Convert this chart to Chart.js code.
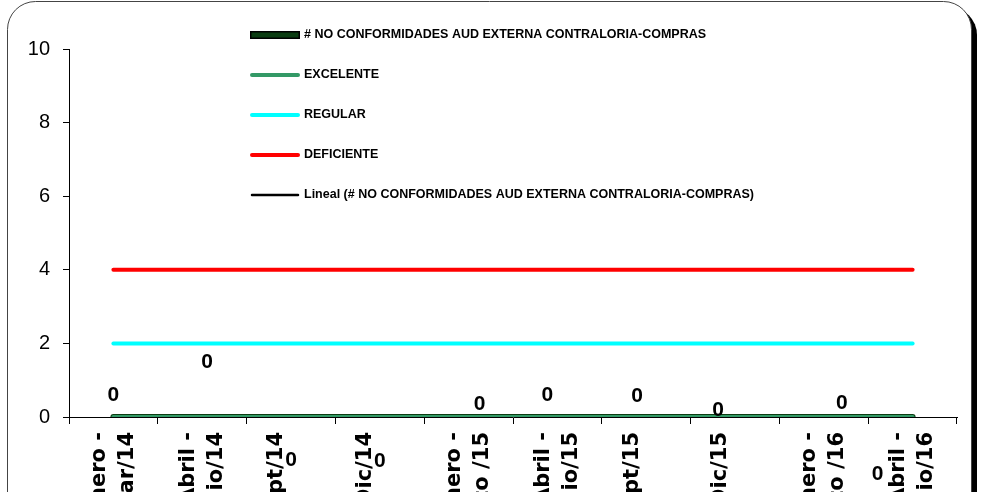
<!DOCTYPE html>
<html><head><meta charset="utf-8">
<script src="https://cdn.jsdelivr.net/npm/chart.js@4.4.0/dist/chart.umd.min.js"></script>
<style>html,body{margin:0;padding:0;background:#fff;overflow:hidden}#wrap{width:983px;height:492px;position:relative}</style>
</head><body><div id="wrap"><canvas id="c" width="983" height="492"></canvas></div>
<script>
// ---- data ----
const categories = [
  ["Enero -", "Mar/14"], ["Abril -", "Junio/14"], "Jul-Sept/14", "Oct-Dic/14",
  ["Enero -", "Marzo /15"], ["Abril -", "Junio/15"], "Jul-Sept/15", "Oct-Dic/15",
  ["Enero -", "Marzo /16"], ["Abril -", "Junio/16"]
];
const noConformidades = [0, 0, 0, 0, 0, 0, 0, 0, 0, 0];
const excelente = [0, 0, 0, 0, 0, 0, 0, 0, 0, 0];
const regular = [2, 2, 2, 2, 2, 2, 2, 2, 2, 2];
const deficiente = [4, 4, 4, 4, 4, 4, 4, 4, 4, 4];
const tendenciaLineal = [0, 0, 0, 0, 0, 0, 0, 0, 0, 0];
const yTickValues = [0, 2, 4, 6, 8, 10];
const seriesNames = [
  "# NO CONFORMIDADES AUD EXTERNA CONTRALORIA-COMPRAS",
  "EXCELENTE", "REGULAR", "DEFICIENTE",
  "Lineal (# NO CONFORMIDADES AUD EXTERNA CONTRALORIA-COMPRAS)"
];

// ---- styles (label offsets in px, manual label placement as in the original) ----
const labelShift = [[0,-22],[5,-55],[0,43],[0,44],[11,-13],[-10,-22],[-9,-21],[-17,-7],[18,-14],[-35,57]];

function rr(ctx, x, y, w, h, r) {
  ctx.beginPath();
  ctx.moveTo(x + r, y);
  ctx.lineTo(x + w - r, y);
  ctx.arcTo(x + w, y, x + w, y + r, r);
  ctx.lineTo(x + w, y + h - r);
  ctx.arcTo(x + w, y + h, x + w - r, y + h, r);
  ctx.lineTo(x + r, y + h);
  ctx.arcTo(x, y + h, x, y + h - r, r);
  ctx.lineTo(x, y + r);
  ctx.arcTo(x, y, x + r, y, r);
  ctx.closePath();
}

const boxPlugin = {
  id: 'box',
  beforeDraw(chart) {
    const ctx = chart.ctx;
    ctx.save();
    rr(ctx, 13, 7, 964, 600, 28);
    ctx.fillStyle = '#000'; ctx.fill();
    rr(ctx, 7.5, 1.5, 964, 600, 28);
    ctx.fillStyle = '#fff'; ctx.fill();
    ctx.lineWidth = 1; ctx.strokeStyle = '#444'; ctx.stroke();
    ctx.restore();
  }
};

const legendPlugin = {
  id: 'customLegend',
  afterDraw(chart) {
    const ctx = chart.ctx;
    const x0 = 250, x1 = 300, tx = 304, y0 = 35, step = 40;
    ctx.save();
    ctx.font = 'bold 12.5px "Liberation Sans", Arial, sans-serif';
    ctx.textBaseline = 'middle';
    ctx.textAlign = 'left';
    ctx.fillStyle = '#000';
    chart.data.datasets.forEach((ds, i) => {
      const y = y0 + i * step;
      if (ds.legendOutline) {
        ctx.fillStyle = ds.legendOutline;
        ctx.fillRect(x0, y - 4, x1 - x0, 8);
        ctx.fillStyle = ds.borderColor;
        ctx.fillRect(x0 + 1.5, y - 2.5, x1 - x0 - 3, 5);
      } else {
        ctx.beginPath();
        ctx.lineCap = 'round';
        ctx.lineWidth = ds.legendWidth;
        ctx.strokeStyle = ds.borderColor;
        ctx.moveTo(x0 + 2, y); ctx.lineTo(x1 - 2, y);
        ctx.stroke();
      }
      ctx.fillStyle = '#000';
      ctx.fillText(ds.label, tx, y);
    });
    ctx.restore();
  }
};

const valueLabels = {
  id: 'valueLabels',
  afterDatasetsDraw(chart) {
    const ctx = chart.ctx;
    const meta = chart.getDatasetMeta(0);
    const data = chart.data.datasets[0].data;
    ctx.save();
    ctx.font = 'bold 21px "Liberation Sans", Arial, sans-serif';
    ctx.fillStyle = '#000';
    ctx.textAlign = 'center';
    ctx.textBaseline = 'middle';
    meta.data.forEach((pt, i) => {
      const s = labelShift[i];
      ctx.fillText(String(data[i]), pt.x + s[0], pt.y + s[1]);
    });
    ctx.restore();
  }
};

const lineDs = (label, data, color, width, order, extra) => Object.assign({
  label, data, borderColor: color, backgroundColor: color, borderWidth: width,
  pointRadius: 0, pointHoverRadius: 0, fill: false, tension: 0, order,
  borderCapStyle: 'round', legendWidth: width
}, extra || {});

new Chart(document.getElementById('c'), {
  type: 'line',
  data: {
    labels: categories,
    datasets: [
      lineDs(seriesNames[0], noConformidades, '#0b3d12', 6, 4, { legendOutline: '#000' }),
      lineDs(seriesNames[1], excelente, '#339966', 4, 0),
      lineDs(seriesNames[2], regular, '#00FFFF', 4, 1),
      lineDs(seriesNames[3], deficiente, '#FF0000', 4, 2),
      lineDs(seriesNames[4], tendenciaLineal, '#000000', 2, 5, { legendWidth: 2.5 })
    ]
  },
  options: {
    responsive: false,
    animation: false,
    devicePixelRatio: 1,
    layout: { padding: { left: 0, right: 26, top: 49, bottom: 0 } },
    plugins: { legend: { display: false }, tooltip: { enabled: false } },
    scales: {
      x: {
        offset: true,
        afterFit(s) { s.height = 75; },
        grid: { display: true, offset: true, drawOnChartArea: false, drawTicks: true, tickLength: 7, color: '#000', lineWidth: 1 },
        border: { display: true, color: '#000', width: 1 },
        ticks: {
          autoSkip: false, maxRotation: 90, minRotation: 90, padding: 8, labelOffset: -14,
          color: '#000',
          font: { family: '"DejaVu Sans", sans-serif', size: 21, weight: 'bold', lineHeight: 1.33 }
        }
      },
      y: {
        min: 0, max: 10,
        afterFit(s) { s.width = 69; },
        afterBuildTicks(s) { s.ticks = yTickValues.map(v => ({ value: v })); },
        grid: { display: true, drawOnChartArea: false, drawTicks: true, tickLength: 6, color: '#000', lineWidth: 1 },
        border: { display: true, color: '#000', width: 1 },
        ticks: {
          padding: 13, color: '#000',
          font: { family: '"Liberation Sans", Arial, sans-serif', size: 20 }
        }
      }
    }
  },
  plugins: [boxPlugin, valueLabels, legendPlugin]
});
</script>
</body></html>
